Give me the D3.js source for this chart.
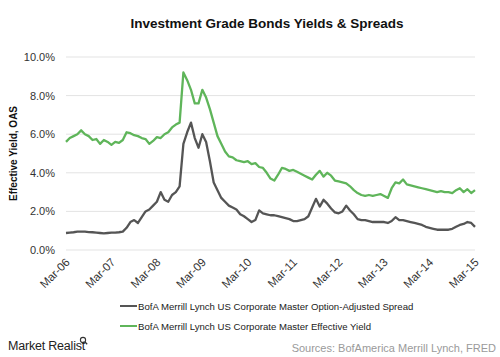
<!DOCTYPE html>
<html><head><meta charset="utf-8">
<script src="https://cdn.jsdelivr.net/npm/d3@7"></script>
<style>body{margin:0;background:#fff;}svg{display:block;font-family:"Liberation Sans",Arial,sans-serif;}</style>
</head><body><svg id="c" width="500" height="357"></svg>
<script>
const xLabels = ["Mar-06","Mar-07","Mar-08","Mar-09","Mar-10","Mar-11","Mar-12","Mar-13","Mar-14","Mar-15"];
const yTicks = [0,2,4,6,8,10];
// monthly values, Mar-06 .. Mar-15 (index = months since Mar-06)
const oasValues = [0.88,0.9,0.92,0.95,0.95,0.95,0.93,0.92,0.9,0.88,0.86,0.88,0.9,0.9,0.92,0.95,1.15,1.45,1.55,1.4,1.7,2.0,2.1,2.3,2.5,3.0,2.6,2.5,2.85,3.0,3.3,5.5,6.1,6.6,5.8,5.3,6.0,5.6,4.6,3.5,3.1,2.7,2.5,2.3,2.2,2.1,1.85,1.75,1.6,1.45,1.55,2.05,1.9,1.85,1.8,1.8,1.75,1.7,1.65,1.6,1.5,1.5,1.55,1.6,1.75,2.2,2.65,2.25,2.6,2.4,2.15,1.95,1.9,2.0,2.3,2.05,1.85,1.6,1.55,1.55,1.5,1.45,1.45,1.45,1.45,1.4,1.5,1.7,1.55,1.55,1.5,1.45,1.4,1.35,1.3,1.2,1.15,1.1,1.05,1.05,1.05,1.05,1.1,1.2,1.3,1.35,1.45,1.4,1.2];
const yieldValues = [5.6,5.8,5.9,6.0,6.2,6.0,5.9,5.7,5.75,5.5,5.7,5.6,5.45,5.6,5.55,5.7,6.1,6.05,5.95,5.9,5.8,5.75,5.5,5.65,5.85,5.8,6.0,6.1,6.35,6.5,6.6,9.2,8.8,8.3,7.6,7.6,8.3,7.9,7.3,6.6,5.9,5.5,5.1,4.85,4.8,4.65,4.6,4.55,4.6,4.45,4.5,4.3,4.25,4.0,3.7,3.6,3.9,4.25,4.2,4.1,4.15,4.05,3.95,3.85,3.75,3.65,3.9,4.1,3.8,4.0,3.85,3.6,3.55,3.5,3.45,3.3,3.1,2.95,2.85,2.8,2.85,2.8,2.85,2.9,2.8,2.7,3.2,3.5,3.45,3.65,3.4,3.35,3.3,3.25,3.2,3.15,3.1,3.05,3.0,3.05,3.0,3.0,2.95,3.1,3.2,3.0,3.15,2.95,3.1];
const seriesNames = ["BofA Merrill Lynch US Corporate Master Option-Adjusted Spread","BofA Merrill Lynch US Corporate Master Effective Yield"];
const seriesColors = ["#555555","#5fb55a"];

const svg = d3.select("#c");
const L = 66, R = 475, T = 57, B = 250;
const x = d3.scaleLinear().domain([0, 108]).range([L, R]);
const y = d3.scaleLinear().domain([0, 10]).range([B, T]);

svg.append("text").attr("x", 267).attr("y", 28).attr("text-anchor", "middle")
  .attr("font-size", 13.5).attr("font-weight", "bold").attr("fill", "#111")
  .text("Investment Grade Bonds Yields & Spreads");

// grid
svg.append("g").selectAll("line").data(yTicks).join("line")
  .attr("x1", L).attr("x2", R).attr("y1", d => y(d)).attr("y2", d => y(d))
  .attr("stroke", "#e3e3e3").attr("stroke-width", 1);

// y axis
const ya = svg.append("g").attr("transform", `translate(${L},0)`)
  .call(d3.axisLeft(y).tickValues(yTicks).tickSize(0).tickPadding(11).tickFormat(d => d.toFixed(1) + "%"));
ya.select(".domain").remove();
ya.selectAll("text").attr("font-size", 11).attr("fill", "#333").attr("font-family", "Liberation Sans, Arial, sans-serif");

svg.append("text").attr("transform", `translate(17,${(T + B) / 2}) rotate(-90)`)
  .attr("text-anchor", "middle").attr("font-size", 10).attr("font-weight", "bold").attr("fill", "#111")
  .text("Effective Yield, OAS");

// x axis
const xa = svg.append("g").attr("transform", `translate(0,${B})`)
  .call(d3.axisBottom(x).tickValues(xLabels.map((d, i) => i * 12)).tickSize(0).tickFormat((d, i) => xLabels[i]));
xa.select(".domain").remove();
xa.selectAll("text").attr("font-size", 11.5).attr("fill", "#333")
  .attr("font-family", "Liberation Sans, Arial, sans-serif")
  .attr("text-anchor", "end").attr("dy", null).attr("y", 0)
  .attr("transform", "translate(4,13) rotate(-45)");

// lines
const line = d3.line().x((d, i) => x(i)).y(d => y(d));
[oasValues, yieldValues].forEach((vals, k) => {
  svg.append("path").datum(vals).attr("d", line).attr("fill", "none")
    .attr("stroke", seriesColors[k]).attr("stroke-width", 2.3).attr("stroke-linejoin", "round");
});

// legend
seriesNames.forEach((n, k) => {
  const ly = 306 + k * 20;
  svg.append("line").attr("x1", 120).attr("x2", 137).attr("y1", ly).attr("y2", ly)
    .attr("stroke", seriesColors[k]).attr("stroke-width", 2);
  svg.append("text").attr("x", 138).attr("y", ly + 3.5).attr("font-size", 9.6).attr("fill", "#222").text(n);
});

// footer
svg.append("text").attr("x", 8).attr("y", 350).attr("font-size", 12.5).attr("fill", "#222")
  .attr("letter-spacing", -0.2).text("Market Realist");
const mg = svg.append("g").attr("transform", "translate(83,340)");
mg.append("circle").attr("r", 2.6).attr("fill", "none").attr("stroke", "#333").attr("stroke-width", 1.1);
mg.append("line").attr("x1", 1.8).attr("y1", 1.8).attr("x2", 4.2).attr("y2", 4.2).attr("stroke", "#333").attr("stroke-width", 1.3);
svg.append("text").attr("x", 496).attr("y", 352).attr("text-anchor", "end").attr("font-size", 11)
  .attr("fill", "#9a9a9a").text("Sources: BofAmerica Merrill Lynch, FRED");
</script></body></html>
